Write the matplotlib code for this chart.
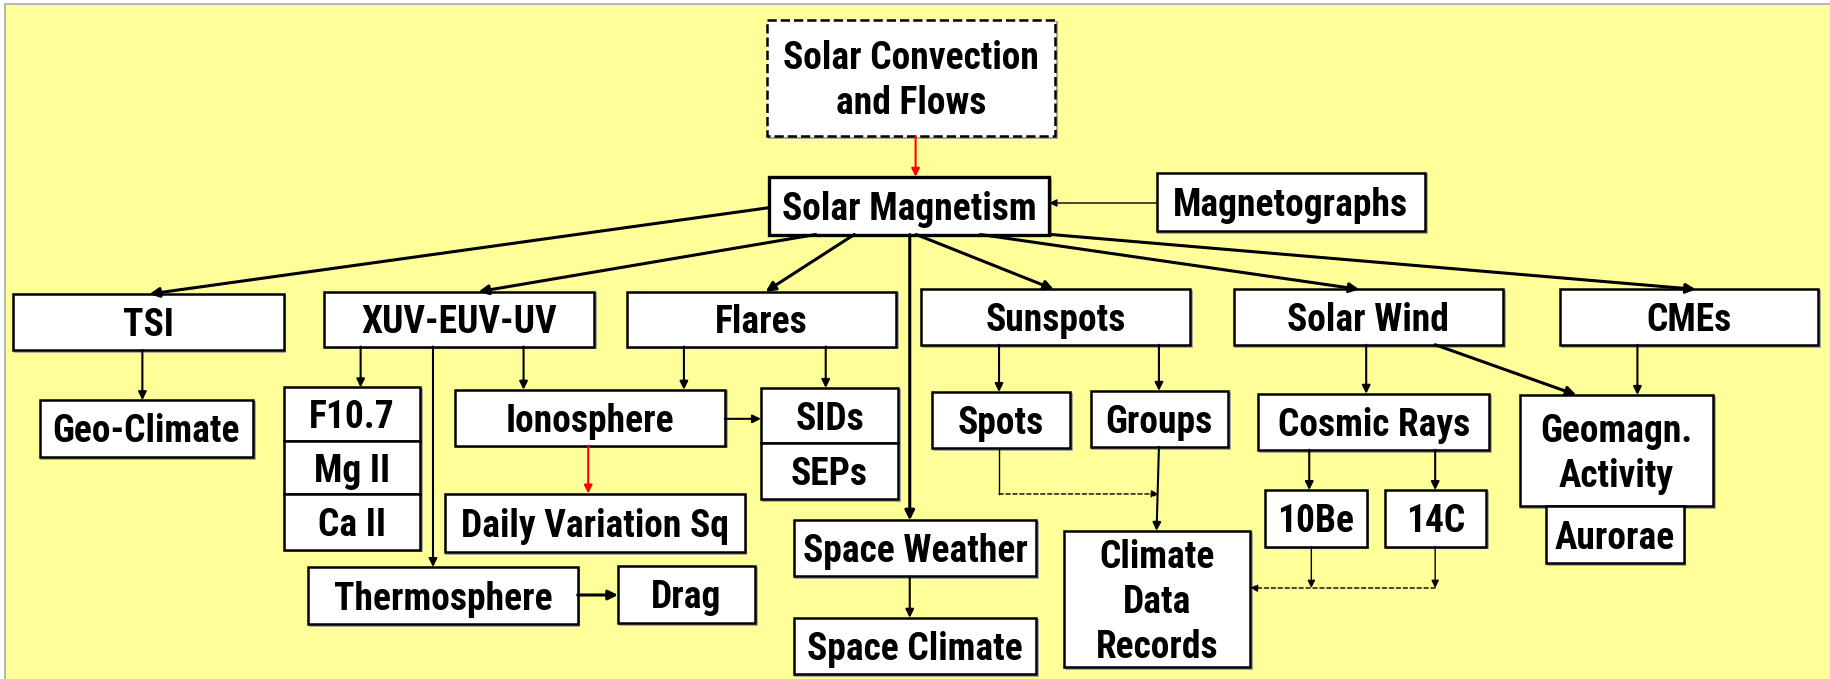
import matplotlib
matplotlib.use("Agg")
import matplotlib.pyplot as plt
from matplotlib.patches import Rectangle, FancyArrowPatch
from matplotlib import font_manager

# box labels and their extents (x0, x1, y0, y1) in reference pixels (1568x582 grid, y down)
labels = ["Solar Convection\nand Flows", "Solar Magnetism", "Magnetographs",
          "TSI", "XUV-EUV-UV", "Flares", "Sunspots", "Solar Wind", "CMEs",
          "Geo-Climate", "F10.7", "Mg II", "Ca II", "Ionosphere", "SIDs", "SEPs",
          "Daily Variation Sq", "Thermosphere", "Drag", "Space Weather", "Space Climate",
          "Spots", "Groups", "Cosmic Rays", "Geomagn.\nActivity", "Aurorae",
          "10Be", "14C", "Climate\nData\nRecords"]
box_x0 = [657, 659, 991, 11, 278, 537, 789, 1057, 1337, 34, 243, 243, 243, 390, 652, 652,
          381, 264, 529.5, 680, 680, 798.5, 934.5, 1078, 1302, 1324.5, 1084, 1187, 911.5]
box_x1 = [904, 899, 1221, 243, 509, 768, 1020, 1288, 1558, 217, 360, 360, 360, 621, 769.5, 769.5,
          638, 495, 647, 888, 888, 917, 1052, 1276, 1468, 1442.5, 1171, 1273.5, 1071]
box_y0 = [17, 151.5, 148, 252, 250, 250, 248, 248, 248, 343, 332, 378, 423.5, 334, 332.5, 380,
          423, 486, 485, 446, 529.5, 336, 335, 337.5, 338.5, 434, 420, 420, 455]
box_y1 = [116.5, 201, 198, 300, 297, 297, 295.5, 295.5, 295.5, 391.5, 378, 423.5, 471, 382, 380, 428,
          473, 535, 534, 494, 577.5, 384, 383, 385.5, 434, 482.5, 468.5, 468.5, 572]

# arrows: start and end points, plus kind
arrow_start = [(659, 178), (699, 201), (732, 201), (779.5, 201), (785, 201), (840, 201), (900.6, 201),
               (784.5, 116.5), (991, 174), (122, 300), (309, 297), (371, 297), (448.6, 297),
               (586, 297), (707.5, 297), (621, 359), (504, 382), (495, 510), (779.5, 494),
               (856, 295.5), (993, 295.5), (993, 383), (1170.6, 295.5), (1229.7, 295.5),
               (1403, 295.5), (1121.8, 385.5), (1229.7, 385.5),
               (1123.6, 468.5), (1229.7, 468.5), (856, 423.4), (1229.7, 504)]
arrow_end = [(128, 252), (410, 250), (656, 250), (779.5, 446), (903, 248), (1164.6, 248), (1453, 248),
             (784.5, 151.5), (899, 174), (122, 343), (309, 332), (371, 486), (448.6, 334),
             (586, 334), (707.5, 332.5), (652, 359), (504, 423), (529.5, 510), (779.5, 529.5),
             (856, 336), (993, 335), (991, 455), (1170.6, 337.5), (1350.6, 338.5),
             (1403, 338.5), (1121.8, 420), (1229.7, 420),
             (1123.6, 504), (1229.7, 504), (993, 423.4), (1071, 504)]
arrow_kind = ["thick"] * 7 + ["red", "thin"] + ["mid"] * 7 + ["red", "thick", "mid"] + ["mid"] * 3 \
    + ["mid", "thick", "mid", "mid", "mid"] + ["thin", "thin", "dash", "dash"]
# plain connector line (no head)
line_start = [(856, 384)]
line_end = [(856, 423.4)]

# pick a narrow font that has a real bold face
bold_fams = {f.name for f in font_manager.fontManager.ttflist
             if isinstance(f.weight, int) and f.weight >= 700 or f.weight == "bold"}
family = "Liberation Sans"
for cand in ["Liberation Sans Narrow", "Arial Narrow", "Roboto Condensed", "Archivo Narrow",
             "Asap Condensed", "Barlow Semi Condensed", "Open Sans Condensed"]:
    if cand in bold_fams:
        family = cand
        break

W, H = 1568, 582
fig = plt.figure(figsize=(18.3, 6.79), dpi=100)
ax = fig.add_axes([0, 0, 1, 1])
ax.set_xlim(0, W)
ax.set_ylim(H, 0)
ax.axis("off")
fig.patch.set_facecolor("white")

# yellow background with grey frame line
ax.add_patch(Rectangle((4.5, 3.5), W, H, facecolor="#ffff99", edgecolor="#b8b8b8", lw=1.5, zorder=0))

for i, lab in enumerate(labels):
    x0, x1, y0, y1 = box_x0[i], box_x1[i], box_y0[i], box_y1[i]
    ls = "--" if i == 0 else "-"
    lw = 2.4 if i == 1 else 1.8
    ax.add_patch(Rectangle((x0 + 1.5, y0 + 1.5), x1 - x0, y1 - y0, facecolor="none",
                           edgecolor="#999999", lw=1.2, zorder=1))
    ax.add_patch(Rectangle((x0, y0), x1 - x0, y1 - y0, facecolor="white",
                           edgecolor="black", lw=lw, ls=ls, zorder=2))
    ax.text((x0 + x1) / 2, (y0 + y1) / 2 + 3, lab, ha="center", va="center", fontsize=27,
            fontweight="bold", family=family, linespacing=1.28, zorder=3)

styles = {"thick": ("black", 2.2, "-", 14), "mid": ("black", 1.5, "-", 12),
          "thin": ("black", 1.0, "-", 11), "red": ("red", 1.5, "-", 12),
          "dash": ("black", 1.0, (0, (3, 2)), 11)}
for (p0, p1, k) in zip(arrow_start, arrow_end, arrow_kind):
    c, lw, ls, ms = styles[k]
    ax.add_patch(FancyArrowPatch(p0, p1, arrowstyle="-|>", mutation_scale=ms, color=c,
                                 lw=lw, linestyle=ls, shrinkA=0, shrinkB=0, zorder=4))
for p0, p1 in zip(line_start, line_end):
    ax.plot([p0[0], p1[0]], [p0[1], p1[1]], color="black", lw=1.0, zorder=4)

fig.savefig("out.png", dpi=100)
